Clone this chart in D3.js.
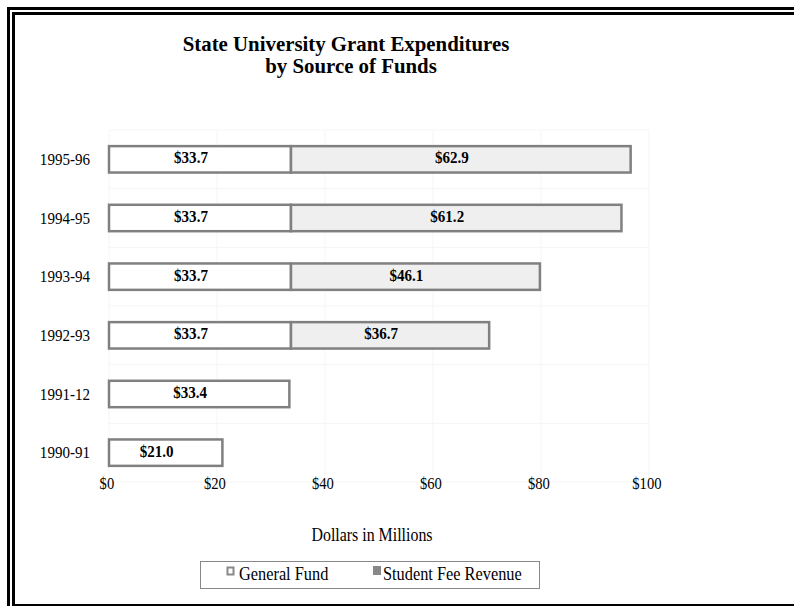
<!DOCTYPE html>
<html>
<head>
<meta charset="utf-8">
<script src="https://cdn.jsdelivr.net/npm/d3@7"></script>
<style>
  html, body { margin: 0; padding: 0; background: #fff; overflow: hidden; }
  svg { display: block; }
</style>
</head>
<body>
<script>
// Grant expenditures by source of funds, in millions of dollars
const categories = ["1995-96", "1994-95", "1993-94", "1992-93", "1991-12", "1990-91"];
const generalFund = [33.7, 33.7, 33.7, 33.7, 33.4, 21.0];
const studentFeeRevenue = [62.9, 61.2, 46.1, 36.7, null, null];
const xTickValues = [0, 20, 40, 60, 80, 100];
const seriesNames = ["General Fund", "Student Fee Revenue"];

const W = 794, H = 606;
const SERIF = "'Liberation Serif', 'Times New Roman', serif";
const SX = 0.86; // condensed serif look

const svg = d3.select("body").append("svg")
  .attr("width", W).attr("height", H);

// double frame, open to the right and bottom
svg.append("path")
  .attr("d", `M8.5,${H} V8.5 H${W}`)
  .attr("fill", "none").attr("stroke", "#000").attr("stroke-width", 3);
svg.append("path")
  .attr("d", `M13.5,${H} V13.5 H${W}`)
  .attr("fill", "none").attr("stroke", "#000").attr("stroke-width", 3);
svg.append("line")
  .attr("x1", 13.5).attr("x2", W).attr("y1", 605).attr("y2", 605)
  .attr("stroke", "#000").attr("stroke-width", 2);

// condensed text helper
function label(g, x, y, text, opts = {}) {
  return g.append("text")
    .attr("transform", `translate(${x},${y}) scale(${opts.sx || SX},1)`)
    .attr("text-anchor", opts.anchor || "middle")
    .attr("font-family", SERIF)
    .attr("font-size", opts.size || 17)
    .attr("font-weight", opts.bold ? "bold" : "normal")
    .attr("fill", "#000")
    .text(text);
}

// title
label(svg, 346, 51, "State University Grant Expenditures", { size: 21.5, bold: true, sx: 0.97 });
label(svg, 351, 73, "by Source of Funds", { size: 21.5, bold: true, sx: 0.97 });

// scales
const x = d3.scaleLinear().domain([0, 100]).range([109, 649]);
const y = d3.scaleBand().domain(categories).range([130, 482])
  .paddingInner(0.55).paddingOuter(0.275);

// faint plot grid
const grid = svg.append("g").attr("stroke", "#f5f5f5").attr("stroke-width", 1);
grid.selectAll("line.v").data(xTickValues).join("line")
  .attr("class", "v")
  .attr("x1", d => x(d)).attr("x2", d => x(d))
  .attr("y1", 130).attr("y2", 482);
const step = y.step();
grid.selectAll("line.h").data(d3.range(categories.length + 1)).join("line")
  .attr("class", "h")
  .attr("x1", x(0)).attr("x2", x(100))
  .attr("y1", i => 130 + i * step).attr("y2", i => 130 + i * step);

// stacked segments
const rows = categories.map((c, i) => ({
  cat: c,
  segs: [
    { key: seriesNames[0], v0: 0, v1: generalFund[i], v: generalFund[i] },
    studentFeeRevenue[i] == null ? null :
      { key: seriesNames[1], v0: generalFund[i], v1: generalFund[i] + studentFeeRevenue[i], v: studentFeeRevenue[i] }
  ].filter(Boolean)
}));
const fills = { "General Fund": "#ffffff", "Student Fee Revenue": "#efefef" };

const barG = svg.append("g");
rows.forEach(r => {
  r.segs.forEach(s => {
    barG.append("rect")
      .attr("x", x(s.v0)).attr("y", y(r.cat))
      .attr("width", x(s.v1) - x(s.v0)).attr("height", y.bandwidth())
      .attr("fill", fills[s.key])
      .attr("stroke", "#808080").attr("stroke-width", 2.5);
  });
});
rows.forEach(r => {
  r.segs.forEach(s => {
    const cx = (x(s.v0) + x(s.v1)) / 2 - 9;
    const cy = y(r.cat) + y.bandwidth() / 2 + 4;
    label(barG, cx, cy, "$" + s.v.toFixed(1), { size: 17.5, bold: true });
  });
});

// category axis
const yAxis = svg.append("g").attr("transform", "translate(90,0)")
  .call(d3.axisLeft(y).tickSize(0).tickPadding(0));
yAxis.select(".domain").remove();
yAxis.selectAll("text")
  .attr("x", 0).attr("dy", "0.32em")
  .attr("transform", `scale(${SX},1)`)
  .attr("font-family", SERIF).attr("font-size", 17.5).attr("fill", "#000");

// value axis
const xAxis = svg.append("g").attr("transform", "translate(0,489)")
  .call(d3.axisBottom(x).tickValues(xTickValues).tickFormat(d => "$" + d).tickSize(0).tickPadding(0));
xAxis.select(".domain").remove();
xAxis.selectAll("text")
  .attr("x", -3).attr("y", 0).attr("dy", 0)
  .attr("transform", `scale(${SX},1)`)
  .attr("font-family", SERIF).attr("font-size", 17).attr("fill", "#000");

label(svg, 372, 541, "Dollars in Millions", { size: 18.5 });

// legend
const lg = svg.append("g");
lg.append("rect").attr("x", 200.5).attr("y", 561.5).attr("width", 339).attr("height", 27)
  .attr("fill", "#fff").attr("stroke", "#888").attr("stroke-width", 1);
lg.append("rect").attr("x", 227.5).attr("y", 567.5).attr("width", 6).attr("height", 7)
  .attr("fill", "#fff").attr("stroke", "#888").attr("stroke-width", 2);
label(lg, 239, 580, seriesNames[0], { size: 19, anchor: "start" });
lg.append("rect").attr("x", 373).attr("y", 566).attr("width", 8).attr("height", 9)
  .attr("fill", "#888");
label(lg, 383, 580, seriesNames[1], { size: 19, anchor: "start" });
</script>
</body>
</html>
